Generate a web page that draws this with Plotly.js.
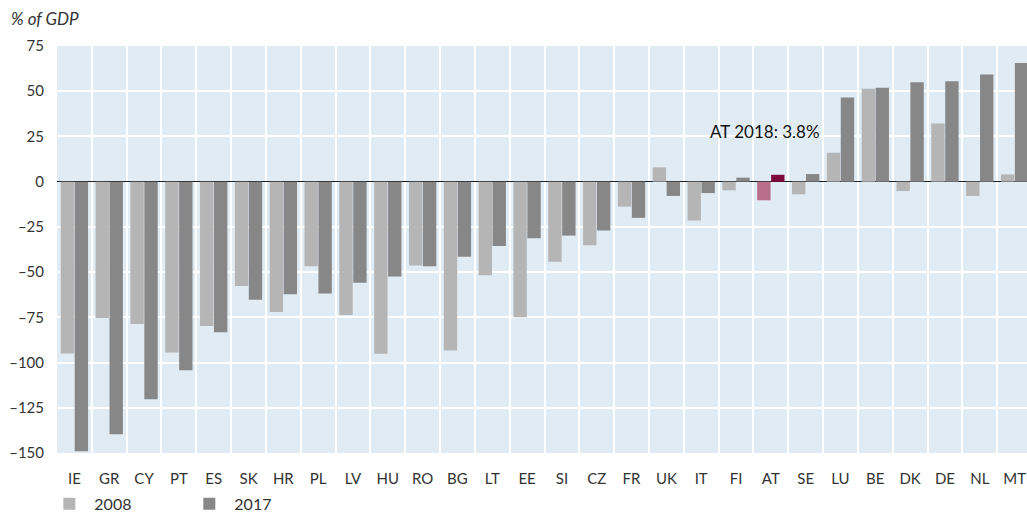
<!DOCTYPE html>
<html>
<head>
<meta charset="utf-8">
<script src="https://cdn.plot.ly/plotly-3.0.1.min.js"></script>
<style>html,body{margin:0;padding:0;overflow:hidden;background:#fff;}</style>
</head>
<body>
<div id="chart"></div>
<script>
const countries = ["IE","GR","CY","PT","ES","SK","HR","PL","LV","HU","RO","BG","LT","EE","SI","CZ","FR","UK","IT","FI","AT","SE","LU","BE","DK","DE","NL","MT"];
const values2008 = [-95,-75.4,-78.7,-94.5,-79.8,-57.7,-72.1,-46.7,-73.7,-95.2,-46.3,-93.4,-51.7,-75,-44.3,-35.1,-13.8,7.9,-21.5,-4.8,-10.3,-7,16,51.3,-5.2,32.2,-7.9,4];
const values2017 = [-149,-139.7,-120.3,-104.3,-83.3,-65.3,-62.3,-61.8,-55.9,-52.4,-46.7,-41.5,-35.5,-31.3,-29.8,-27,-20,-7.9,-6.3,2.2,3.8,4.2,46.5,51.9,55,55.5,59.2,65.6];
const seriesNames = ["2008","2017"];
const highlight = "AT";
const annotationText = "AT 2018: 3.8%";
const yTicks = [75,50,25,0,-25,-50,-75,-100,-125,-150];
const yTickText = ["75","50","25","0","–25","–50","–75","–100","–125","–150"];

const c2008 = countries.map(c => c === highlight ? "#b86d89" : "#b5b5b5");
const c2017 = countries.map(c => c === highlight ? "#7d0a3b" : "#878787");

const font = "Lato, 'Open Sans', sans-serif";
const traces = [
  {type:"bar", name:seriesNames[0], x:countries, y:values2008, marker:{color:c2008, line:{width:0}}},
  {type:"bar", name:seriesNames[1], x:countries, y:values2017, marker:{color:c2017, line:{width:0}}}
];
const layout = {
  width:1032, height:513,
  margin:{l:57, r:0, t:46, b:60, autoexpand:false},
  paper_bgcolor:"#ffffff", plot_bgcolor:"#e1ebf4",
  barmode:"group", bargap:0.2, bargroupgap:0.04,
  font:{family:font, size:15, color:"#333333"},
  xaxis:{type:"category", tickson:"boundaries", showgrid:true, gridcolor:"#ffffff", gridwidth:2,
         ticks:"", ticklabelstandoff:15, tickfont:{size:15, color:"#333333"}, showline:false, zeroline:false, automargin:false},
  yaxis:{range:[-150,75], tickvals:yTicks, ticktext:yTickText, showgrid:true, gridcolor:"#ffffff", gridwidth:2,
         zeroline:true, zerolinecolor:"#222222", zerolinewidth:1.5, ticks:"", ticklabelstandoff:12,
         tickfont:{size:15, color:"#333333"}, showline:false, automargin:false},
  showlegend:true,
  legend:{orientation:"h", xref:"paper", x:-0.013, xanchor:"left", yref:"paper", y:-0.083, yanchor:"top",
          font:{size:16, color:"#333333"}, itemwidth:40, entrywidth:85, entrywidthmode:"pixels", bgcolor:"rgba(0,0,0,0)"},
  annotations:[
    {xref:"paper", yref:"paper", x:0, y:1, xanchor:"left", yanchor:"middle", xshift:-48, yshift:28,
     text:"<i>% of GDP</i>", showarrow:false, font:{size:17, color:"#333333"}},
    {xref:"x", yref:"y", x:highlight, y:28, xanchor:"center", yanchor:"middle", xshift:-6,
     text:annotationText, showarrow:false, font:{size:17, color:"#111111"}}
  ]
};
Plotly.newPlot("chart", traces, layout, {displayModeBar:false, staticPlot:true});
</script>
</body>
</html>
